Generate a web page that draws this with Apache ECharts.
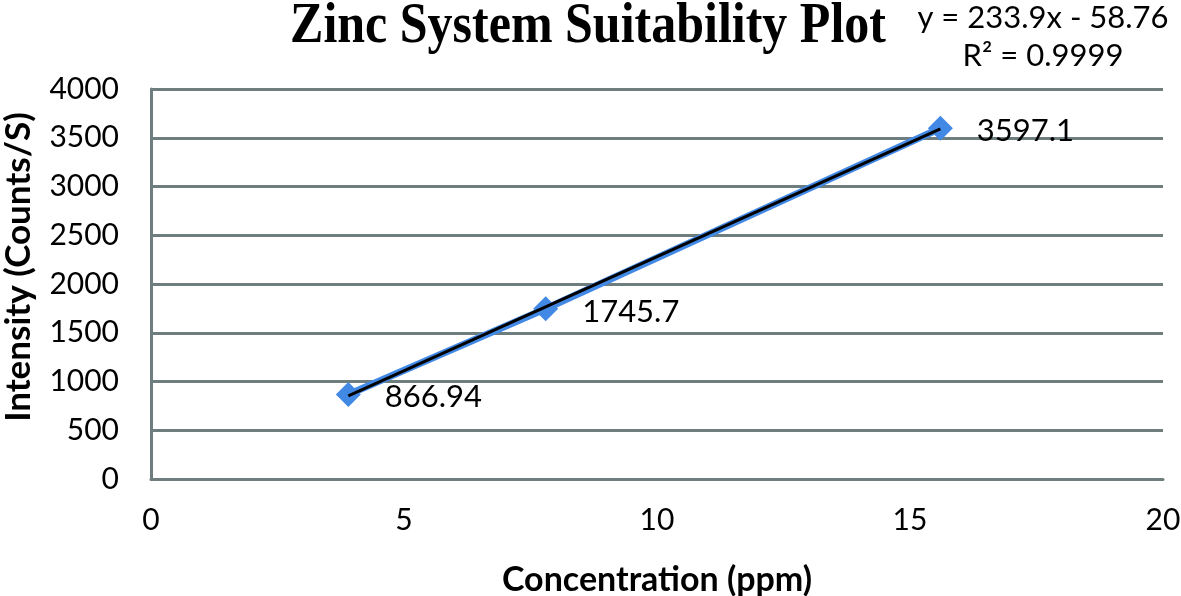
<!DOCTYPE html>
<html>
<head>
<meta charset="utf-8">
<script src="https://cdn.jsdelivr.net/npm/echarts@6/dist/echarts.min.js"></script>
<style>html,body{margin:0;padding:0;background:#fff}#c{width:1181px;height:596px}</style>
</head>
<body>
<div id="c"></div>
<script>
const concentration = [3.9, 7.8, 15.6];
const intensity = [866.94, 1745.7, 3597.1];
const trendX = [3.9, 15.6];
const trendY = [853.45, 3590.08];
const xTicks = [0, 5, 10, 15, 20];
const yTicks = [0, 500, 1000, 1500, 2000, 2500, 3000, 3500, 4000];
const titleText = 'Zinc System Suitability Plot';
const equationText = 'y = 233.9x - 58.76';
const r2Text = 'R² = 0.9999';
const xTitle = 'Concentration (ppm)';
const yTitle = 'Intensity (Counts/S)';

const gridColor = '#6e7d7d';
const chart = echarts.init(document.getElementById('c'));
chart.setOption({
  animation: false,
  backgroundColor: '#fff',
  graphic: [
    {type: 'text', x: 588, y: 27, scaleY: 1.15, style: {text: titleText, x: 0, y: 0, align: 'center', verticalAlign: 'middle', font: 'bold 50px "Liberation Serif"', fill: '#000'}},
    {type: 'text', x: 1043, y: 18, style: {text: equationText, x: 0, y: 0, align: 'center', verticalAlign: 'middle', font: '31px Lato', fill: '#000'}},
    {type: 'text', x: 1043, y: 56, style: {text: r2Text, x: 0, y: 0, align: 'center', verticalAlign: 'middle', font: '31px Lato', fill: '#000'}},
    {type: 'text', x: 19, y: 267, rotation: Math.PI / 2, style: {text: yTitle, x: 0, y: 0, align: 'center', verticalAlign: 'middle', font: 'bold 35px Lato', fill: '#000'}}
  ],
  grid: {left: 151, right: 18, top: 89, bottom: 117, containLabel: false, outerBoundsMode: 'none'},
  xAxis: {
    type: 'value', min: xTicks[0], max: xTicks[xTicks.length - 1], interval: 5,
    name: xTitle, nameLocation: 'middle', nameGap: 84,
    nameTextStyle: {fontFamily: 'Lato', fontWeight: 'bold', fontSize: 34, color: '#000'},
    axisLine: {show: true, lineStyle: {color: gridColor, width: 3}},
    axisTick: {show: false},
    splitLine: {show: false},
    axisLabel: {fontFamily: 'Lato', fontSize: 30, color: '#000', margin: 26}
  },
  yAxis: {
    type: 'value', min: yTicks[0], max: yTicks[yTicks.length - 1], interval: 500,
    axisLine: {show: true, lineStyle: {color: gridColor, width: 3}},
    axisTick: {show: false},
    splitLine: {show: true, lineStyle: {color: gridColor, width: 3}},
    axisLabel: {fontFamily: 'Lato', fontSize: 30, color: '#000', margin: 32, formatter: v => String(v)}
  },
  series: [
    {
      type: 'line', data: concentration.map((x, i) => [x, intensity[i]]),
      symbol: 'diamond', symbolSize: 25,
      lineStyle: {color: '#4289e6', width: 7},
      itemStyle: {color: '#4289e6'},
      label: {show: true, position: 'right', distance: 24, fontFamily: 'Lato', fontSize: 31, color: '#000', offset: [0, 3]},
      z: 2
    },
    {
      type: 'line', data: trendX.map((x, i) => [x, trendY[i]]),
      symbol: 'none', lineStyle: {color: '#000', width: 3}, z: 3, silent: true
    }
  ]
});
</script>
</body>
</html>
